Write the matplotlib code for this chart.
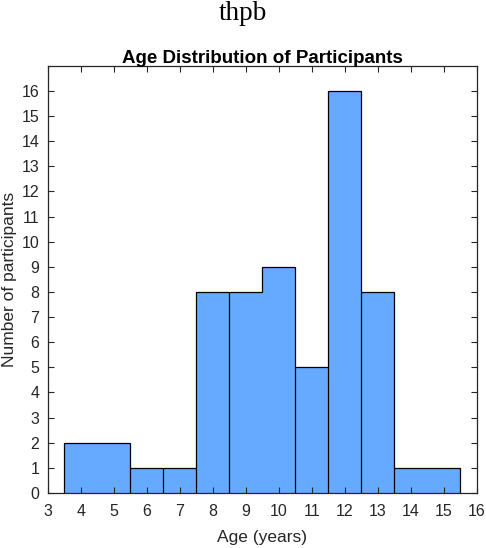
import matplotlib
matplotlib.use('Agg')
import matplotlib.pyplot as plt

# histogram bin edges and counts
edges = [3.5, 5.5, 6.5, 7.5, 8.5, 9.5, 10.5, 11.5, 12.5, 13.5, 15.5]
counts = [2, 1, 1, 8, 8, 9, 5, 16, 8, 1]
# inner edges that are drawn without a divider line in the original
no_divider = [9.5]

x_ticks = list(range(3, 17))
y_ticks = list(range(0, 17))

plt.rcParams['font.family'] = ['Liberation Sans', 'DejaVu Sans']
dark = '#262626'
blue = '#66aaff'

fig = plt.figure(figsize=(4.86, 5.48), dpi=100)
ax = fig.add_axes([47.7 / 486, 1 - 493 / 548, 429 / 486, 427.3 / 548])

# fill, then outline, then the dividers between neighbouring bins
ax.stairs(counts, edges, fill=True, color=blue, zorder=1)
ax.stairs(counts, edges, baseline=0, color='black', linewidth=0.9, zorder=2)
div_x = []
div_top = []
for i in range(1, len(edges) - 1):
    if edges[i] in no_divider:
        continue
    div_x.append(edges[i])
    div_top.append(min(counts[i - 1], counts[i]))
ax.vlines(div_x, 0, div_top, color='black', linewidth=0.9, zorder=2)

ax.set_xlim(3, 16)
ax.set_ylim(0, 17)
ax.set_xticks(x_ticks)
ax.set_yticks(y_ticks)
ax.tick_params(direction='in', length=4, width=0.8, colors=dark,
               labelsize=11.5, top=True, right=True, pad=6)
ax.tick_params(axis='x', pad=8)
for s in ax.spines.values():
    s.set_color(dark)
    s.set_linewidth(0.9)
    s.set_zorder(3)

ax.set_title('Age Distribution of Participants', fontsize=13.5,
             fontweight='bold', color='black', pad=2)
ax.set_xlabel('Age (years)', fontsize=12.5, color=dark, labelpad=8)
ax.set_ylabel('Number of participants', fontsize=12.5, color=dark, labelpad=3)

fig.text(0.5, 1 - 14 / 548, 'thpb', ha='center', va='center',
         fontsize=19.5, family=['Liberation Serif', 'DejaVu Serif'])

fig.savefig('out.png', dpi=100)
